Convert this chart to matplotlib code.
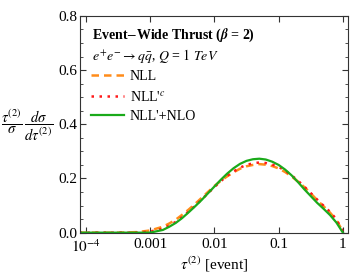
import numpy as np
import matplotlib
matplotlib.use("Agg")
import matplotlib.pyplot as plt
from matplotlib.ticker import FixedLocator, MultipleLocator

plt.rcParams['font.family'] = ['Liberation Serif', 'DejaVu Serif']
plt.rcParams['mathtext.fontset'] = 'stix'

# log10(tau) grid and curve values
log_tau = [-4.1, -3.5, -3.2, -3.0, -2.8, -2.7, -2.6, -2.5, -2.4, -2.3, -2.2, -2.1,
           -2.0, -1.9, -1.8, -1.7, -1.6, -1.5, -1.4, -1.3, -1.2, -1.1, -1.0,
           -0.9, -0.8, -0.7, -0.6, -0.5, -0.4, -0.3, -0.2, -0.1, 0.0]
nll = [0.0, 0.0, 0.002, 0.008, 0.022, 0.034, 0.048, 0.066, 0.085, 0.106, 0.128, 0.150,
       0.172, 0.191, 0.208, 0.223, 0.236, 0.245, 0.250, 0.253, 0.251, 0.246, 0.237,
       0.224, 0.208, 0.189, 0.168, 0.145, 0.120, 0.097, 0.074, 0.046, 0.004]
nllc = [0.0, 0.0, 0.0, 0.004, 0.015, 0.026, 0.040, 0.058, 0.078, 0.099, 0.122, 0.145,
        0.168, 0.190, 0.210, 0.226, 0.240, 0.250, 0.256, 0.259, 0.257, 0.251, 0.243,
        0.229, 0.212, 0.192, 0.170, 0.146, 0.122, 0.099, 0.077, 0.049, 0.004]
nlo = [0.0, 0.0, 0.0, 0.0, 0.010, 0.022, 0.036, 0.054, 0.075, 0.097, 0.120, 0.145,
       0.170, 0.195, 0.218, 0.238, 0.254, 0.265, 0.271, 0.273, 0.270, 0.262, 0.250,
       0.233, 0.212, 0.187, 0.160, 0.135, 0.110, 0.088, 0.065, 0.037, 0.0]

tick_pos = [1e-4, 1e-3, 1e-2, 1e-1, 1]
tick_lab = [r'$10^{-4}$', '0.001', '0.01', '0.1', '1']

tau = 10 ** np.array(log_tau)

fig = plt.figure(figsize=(3.5, 2.75), dpi=100)
ax = fig.add_axes([0.2286, 0.154, 0.7654, 0.788])

ax.plot(tau, nll, color='#FF8C1A', lw=1.8, ls=(0, (3, 2)), label='NLL')
ax.plot(tau, nllc, color='#FF1A1A', lw=1.8, ls=(0, (1, 2.2)), label="NLL'$^{c}$")
ax.plot(tau, nlo, color='#1AAA1A', lw=1.6, label="NLL'+NLO")

ax.set_xscale('log')
ax.set_xlim(10 ** -4.09, 10 ** 0.078)
ax.set_ylim(0, 0.8)
ax.xaxis.set_major_locator(FixedLocator(tick_pos))
ax.set_xticklabels(tick_lab)
ax.xaxis.set_minor_locator(FixedLocator([]))
ax.yaxis.set_major_locator(MultipleLocator(0.2))
ax.yaxis.set_minor_locator(MultipleLocator(0.05))
ax.yaxis.set_major_formatter(matplotlib.ticker.FormatStrFormatter('%.1f'))
ax.tick_params(which='both', direction='in', top=True, right=True,
               labelsize=11, color='#333333', pad=2)
ax.tick_params(axis='x', pad=4)
ax.tick_params(which='major', length=4)
ax.tick_params(which='minor', length=2)
for s in ax.spines.values():
    s.set_color('#333333')

ax.text(0.045, 0.912, r'Event$-$Wide Thrust ($\boldsymbol{\beta}$ = 2)',
        transform=ax.transAxes, fontsize=10, fontweight='bold', va='center')
ax.text(0.045, 0.815, r'$e^{+}e^{-}\rightarrow q\bar{q}$, $Q$ = $1\ TeV$',
        transform=ax.transAxes, fontsize=10, va='center')

ax.legend(loc='upper left', bbox_to_anchor=(0.02, 0.775), frameon=False,
          fontsize=10, handlelength=2.4, handletextpad=0.4, labelspacing=0.45,
          borderaxespad=0)

fig.text(0.004, 0.545, r'$\dfrac{\tau^{(2)}}{\sigma}\,\dfrac{d\sigma}{d\tau^{(2)}}$',
         fontsize=10.5, ha='left', va='center')
ax.set_xlabel(r'$\tau^{(2)}$ [event]', fontsize=11, labelpad=0)

fig.savefig('out.png', dpi=100)
